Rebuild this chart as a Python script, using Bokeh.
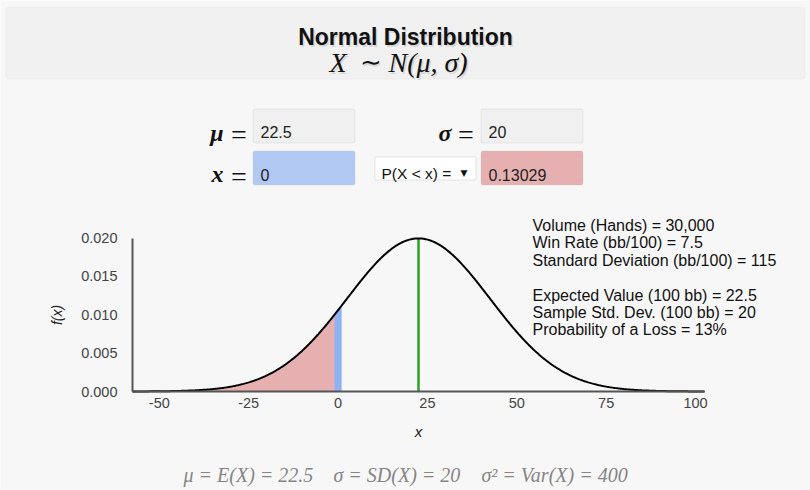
import numpy as np
from bokeh.plotting import figure
from bokeh.models import Range1d, LinearAxis, FixedTicker, Label, BoxAnnotation
from bokeh.embed import file_html
from bokeh.resources import INLINE

# ---------------- data ----------------
MU = 22.5
SIGMA = 20
X_VALUE = 0
P_VALUE = "0.13029"
DOMAIN = [-57.5, 102.5]            # mu -/+ 4 sigma
X_TICKS = [-50, -25, 0, 25, 50, 75, 100]
X_TICK_LABELS = ["-50", "-25", "0", "25", "50", "75", "100"]
Y_TICKS = [0.0, 0.005, 0.010, 0.015, 0.020]
Y_TICK_LABELS = ["0.000", "0.005", "0.010", "0.015", "0.020"]
INFO_LINES = [
    "Volume (Hands) = 30,000",
    "Win Rate (bb/100) = 7.5",
    "Standard Deviation (bb/100) = 115",
    "",
    "Expected Value (100 bb) = 22.5",
    "Sample Std. Dev. (100 bb) = 20",
    "Probability of a Loss = 13%",
]
SUMMARY = ["\u03bc = E(X) = 22.5", "\u03c3 = SD(X) = 20", "\u03c3\u00b2 = Var(X) = 400"]

# normal density defined by the displayed parameters
xs = np.linspace(DOMAIN[0], DOMAIN[1], 641)
pdf = np.exp(-0.5 * ((xs - MU) / SIGMA) ** 2) / (SIGMA * np.sqrt(2 * np.pi))
peak = 1.0 / (SIGMA * np.sqrt(2 * np.pi))

# ---------------- page geometry (px) ----------------
W, H = 810, 490
AX_L, AX_R = 132, 704      # x pixel of DOMAIN ends
AX_Y0, AX_Y02 = 391, 237.5  # y pixel of 0 and 0.020
SX = (AX_R - AX_L) / (DOMAIN[1] - DOMAIN[0])
SY = (AX_Y0 - AX_Y02) / 0.02


def dx(px):
    return DOMAIN[0] + (px - AX_L) / SX


def dy(py):
    return (AX_Y0 - py) / SY


p = figure(width=W, height=H, output_backend="svg", toolbar_location=None,
           x_range=Range1d(dx(0), dx(W)), y_range=Range1d(dy(H), dy(0)),
           x_axis_type=None, y_axis_type=None, min_border=0,
           background_fill_color="#f7f7f7", border_fill_color="#f7f7f7",
           outline_line_color=None)
p.grid.visible = False


def box(x0, y0, x1, y1, fill, line, radius=0):
    p.add_layout(BoxAnnotation(left=dx(x0), right=dx(x1), top=dy(y0), bottom=dy(y1),
                               fill_color=fill, fill_alpha=1, line_color=line,
                               line_width=1, border_radius=radius))


def lab(text, px, py, size, align="left", color="#000000", font="Liberation Sans",
        style="normal", baseline="alphabetic", angle=0, alpha=1.0):
    p.add_layout(Label(x=dx(px), y=dy(py), text=text, text_font=font,
                       text_font_size=f"{size}px", text_align=align,
                       text_baseline=baseline, text_color=color,
                       text_font_style=style, angle=angle, text_alpha=alpha))


# ---------------- header ----------------
box(5.5, 6.5, 804.5, 78.5, "#f1f1f1", "#dcdcdc", 3)
lab("Normal Distribution", 406.5, 38, 23, "center", "#999999", style="bold", alpha=0.3)
lab("Normal Distribution", 405, 36, 23, "center", "#111111", style="bold")
for dxo, dyo, col, a in ((1.5, 2, "#999999", 0.3), (0, 0, "#111111", 1.0)):
    lab("X", 329 + dxo, 62 + dyo, 28, "left", col, font="Liberation Serif",
        style="italic", alpha=a)
    lab("\u223c", 370 + dxo, 62 + dyo, 26, "center", col, font="Liberation Serif", alpha=a)
    lab("N(\u03bc,  \u03c3)", 388 + dxo, 62 + dyo, 28, "left", col, font="Liberation Serif",
        style="italic", alpha=a)

# ---------------- input boxes ----------------
box(252.5, 108.5, 354.5, 142.5, "#f0f0f0", "#c4c4c4", 2)
box(480.5, 108.5, 582.5, 142.5, "#f0f0f0", "#c4c4c4", 2)
box(252.5, 150.5, 354.5, 184.5, "#b1c9f3", "#c4c4c4", 2)
box(374.5, 156.5, 475.5, 179.5, "#ffffff", "#a9a9a9", 0)
box(480.5, 150.5, 582.5, 184.5, "#e6b0b0", "#c4c4c4", 2)

lab("\u03bc", 223, 132, 24, "right", "#111111", font="Liberation Serif", style="bold italic")
lab("=", 238.5, 134, 28, "center", "#111111", font="Liberation Serif")
lab("\u03c3", 451, 132, 24, "right", "#111111", font="Liberation Serif", style="bold italic")
lab("=", 465.5, 134, 28, "center", "#111111", font="Liberation Serif")
lab("x", 223, 173.5, 24, "right", "#111111", font="Liberation Serif", style="bold italic")
lab("=", 238.5, 176, 28, "center", "#111111", font="Liberation Serif")

lab(f"{MU:g}", 260, 131, 16, "left", "#222222")
lab(f"{SIGMA:g}", 488, 131, 16, "left", "#222222")
lab(f"{X_VALUE:g}", 260, 174, 16, "left", "#222222")
lab(P_VALUE, 488, 174, 16, "left", "#222222")
lab("P(X < x) =", 381, 173, 15.5, "left", "#111111")
lab("\u25bc", 463.5, 172, 9, "center", "#111111", font="DejaVu Sans")

# ---------------- chart ----------------
left = xs <= X_VALUE
p.varea(x=xs[left], y1=0, y2=pdf[left], fill_color="#e6b0b0")
band = np.abs(xs - X_VALUE) <= 1.1
p.varea(x=xs[band], y1=0, y2=pdf[band], fill_color="#8fb2f0")
p.segment(x0=[MU], y0=[0], x1=[MU], y1=[peak], line_color="#2ca02c", line_width=2.5)
p.line(xs, pdf, line_color="#000000", line_width=2)

xaxis = LinearAxis(fixed_location=0, bounds=(DOMAIN[0], DOMAIN[1]),
                   ticker=FixedTicker(ticks=X_TICKS),
                   major_label_overrides={t: l for t, l in zip(X_TICKS, X_TICK_LABELS)})
yaxis = LinearAxis(fixed_location=DOMAIN[0], bounds=(0, 0.02),
                   ticker=FixedTicker(ticks=Y_TICKS),
                   major_label_overrides={t: l for t, l in zip(Y_TICKS, Y_TICK_LABELS)})
for ax, standoff in ((xaxis, 6), (yaxis, 15)):
    ax.axis_line_color = "#555555"
    ax.axis_line_width = 2
    ax.major_tick_line_color = None
    ax.minor_tick_line_color = None
    ax.major_tick_out = 0
    ax.major_tick_in = 0
    ax.major_label_text_font = "Liberation Sans"
    ax.major_label_text_font_size = "14.5px"
    ax.major_label_text_color = "#444444"
    ax.major_label_standoff = standoff
p.add_layout(xaxis, "below")
p.add_layout(yaxis, "left")

lab("x", 418, 431, 15, "center", "#222222", style="italic")
lab("f(x)", 56, 314.5, 14, "center", "#222222", style="italic", baseline="middle",
    angle=np.pi / 2)

for i, line in enumerate(INFO_LINES):
    if line:
        lab(line, 532, 225 + 17.4 * i, 16, "left", "#111111")

# ---------------- summary ----------------
for text, px in zip(SUMMARY, [183, 333, 481]):
    lab(text, px, 474, 20, "left", "#858585", font="Liberation Serif", style="italic")

open("out.html", "w").write(file_html(p, INLINE))
